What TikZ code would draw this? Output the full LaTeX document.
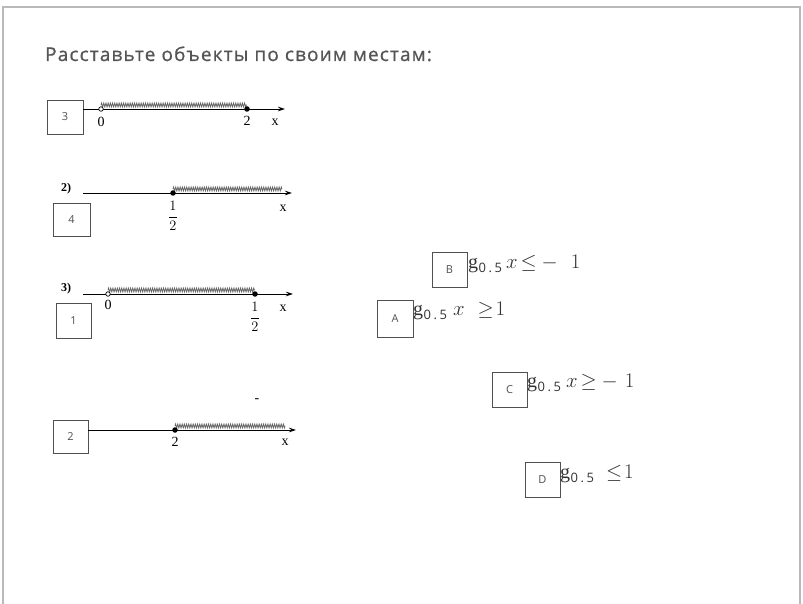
\documentclass[tikz,border=0pt]{standalone}
\usepackage{fontspec}
\setmainfont{Liberation Serif}
\newfontfamily\titlefont[LetterSpace=6, FakeBold=0.8]{Open Sans}
\newfontfamily\boxfont{Open Sans}
\newfontfamily\subfont{Open Sans}
\usetikzlibrary{arrows.meta,decorations.pathmorphing}
\definecolor{titlegray}{HTML}{555555}
\definecolor{boxgray}{HTML}{505050}
\newcommand{\gsub}{g\kern0.5pt\raisebox{-4pt}{\subfont\fontsize{13}{13}\selectfont 0\kern2.5pt.\kern2.5pt5}}
\tikzset{
  ansbox/.style={draw=boxgray, line width=0.8pt, inner sep=0pt, font=\boxfont\fontsize{11}{12}\selectfont, text=boxgray},
  axisline/.style={line width=0.8pt, -{Stealth[length=7pt,width=4.5pt]}},
  hatchband/.style={draw=black!60, line width=0.8pt, decorate, decoration={zigzag, segment length=2.2pt, amplitude=1.9pt}},
  opendot/.style={circle, draw=black, fill=white, line width=0.7pt, inner sep=0pt, minimum size=4.5pt},
  fulldot/.style={circle, fill=black, inner sep=0pt, minimum size=5.5pt},
  numlab/.style={font=\fontsize{14}{15}\selectfont, inner sep=0pt},
  fraclab/.style={font=\fontsize{15}{16}\selectfont, inner sep=0pt},
  formula/.style={anchor=base west, inner sep=0pt, font=\fontsize{20}{22}\selectfont, text=black!80},
}
\begin{document}
\begin{tikzpicture}[x=1pt,y=-1pt]
\useasboundingbox (0,0) rectangle (803,604);
\fill[white] (0,0) rectangle (803,604);
\draw[gray!55, line width=1.2pt] (3,604) -- (3,7) -- (800,7) -- (800,604);

\node[anchor=base west, inner sep=0pt, text=titlegray, font=\titlefont\fontsize{19}{22}\selectfont] (title) at (45,61) {Расставьте объекты по своим местам:};

% ---- line 1 ----
\node[ansbox, minimum width=36pt, minimum height=34pt] (b3) at (65,117) {3};
\coordinate (a1s) at (83,109);
\coordinate (a1e) at (285,109);
\draw[hatchband] (101,105) -- (247,105);
\draw[axisline] (a1s) -- (a1e);
\node[opendot] (o1) at (101,109) {};
\node[fulldot] (f1) at (247,109) {};
\node[numlab] (l1a) at (101,122) {0};
\node[numlab] (l1b) at (247,121) {2};
\node[numlab] (l1x) at (275,122) {x};

% ---- line 2 ----
\node[numlab, font=\bfseries\fontsize{12}{13}\selectfont] (n2) at (66,189) {2)};
\node[ansbox, minimum width=37pt, minimum height=33pt] (b4) at (71.5,219.5) {4};
\coordinate (a2s) at (83,193);
\coordinate (a2e) at (292,193);
\draw[hatchband] (173,189) -- (282,189);
\draw[axisline] (a2s) -- (a2e);
\node[fulldot] (f2) at (173,193) {};
\node[fraclab] (l2a) at (173,216) {$\displaystyle\frac{1}{2}$};
\node[numlab] (l2x) at (283,208) {x};

% ---- line 3 ----
\node[numlab, font=\bfseries\fontsize{12}{13}\selectfont] (n3) at (66,289) {3)};
\node[ansbox, minimum width=35pt, minimum height=35pt] (b1) at (73.5,320.5) {1};
\coordinate (a3s) at (83,294);
\coordinate (a3e) at (293,294);
\draw[hatchband] (108,290) -- (255,290);
\draw[axisline] (a3s) -- (a3e);
\node[opendot] (o3) at (108,294) {};
\node[fulldot] (f3) at (255,294) {};
\node[numlab] (l3a) at (108,305) {0};
\node[fraclab] (l3b) at (255,317) {$\displaystyle\frac{1}{2}$};
\node[numlab] (l3x) at (283,308) {x};

% ---- line 4 ----
\node[numlab] (dash4) at (257,401) {-};
\node[ansbox, minimum width=35pt, minimum height=33pt] (b2) at (70.5,436.5) {2};
\coordinate (a4e) at (296,430);
\draw[hatchband] (175,426) -- (285,426);
\draw[axisline] (b2.east |- a4e) -- (a4e);
\node[fulldot] (f4) at (175,430) {};
\node[numlab] (l4a) at (175,442) {2};
\node[numlab] (l4x) at (285,442) {x};

% ---- right side ----
\node[ansbox, minimum width=35pt, minimum height=35pt] (bB) at (449.5,269.5) {B};
\node[formula] (fB) at (468,268) {\gsub\kern4pt$x$\kern3pt$\le$\kern5pt$-$\kern13pt$1$};

\node[ansbox, minimum width=36pt, minimum height=37pt] (bA) at (395,318.5) {A};
\node[formula] (fA) at (413,315) {\gsub\kern6pt$x$\kern13pt$\ge$\kern2pt$1$};

\node[ansbox, minimum width=35pt, minimum height=35pt] (bC) at (509.5,389.5) {C};
\node[formula] (fC) at (527,387) {\gsub\kern5pt$x$\kern3pt$\ge$\kern5pt$-$\kern7pt$1$};

\node[ansbox, minimum width=35pt, minimum height=35pt] (bD) at (542.5,479.5) {D};
\node[formula] (fD) at (560,478) {\gsub\kern12pt$\le$\kern2pt$1$};
\end{tikzpicture}
\end{document}
